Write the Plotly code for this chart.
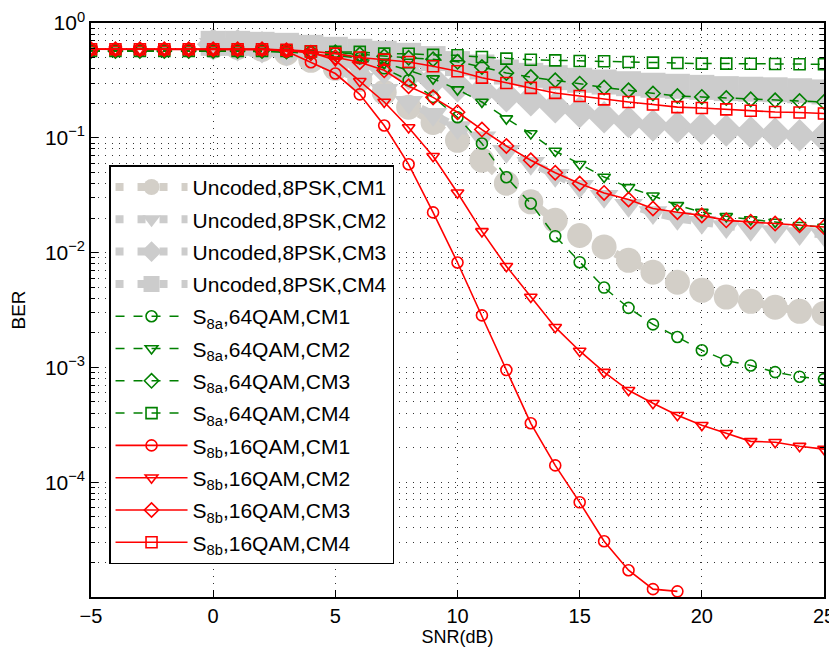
import plotly.graph_objects as go

# ---------------- data ----------------
snr_coded = list(range(-5, 26))          # -5 .. 25 dB
snr_uncoded = list(range(0, 26))         # 0 .. 25 dB
snr_s8b_cm1 = list(range(-5, 20))        # -5 .. 19 dB

uncoded_cm1 = [0.627, 0.614, 0.590, 0.545, 0.473, 0.403, 0.323, 0.249, 0.185, 0.136,
               0.0951, 0.0637, 0.0402, 0.0277, 0.0191, 0.0141, 0.0112, 0.00857, 0.00674, 0.00552,
               0.00469, 0.00410, 0.00376, 0.00334, 0.00308, 0.00295]
uncoded_cm2 = [0.652, 0.639, 0.614, 0.556, 0.483, 0.403, 0.323, 0.259, 0.204, 0.160,
               0.123, 0.100, 0.0762, 0.0600, 0.0471, 0.0378, 0.0309, 0.0258, 0.0224, 0.0199,
               0.0184, 0.0169, 0.0160, 0.0153, 0.0147, 0.0144]
uncoded_cm3 = [0.652, 0.639, 0.614, 0.578, 0.534, 0.493, 0.446, 0.403, 0.357, 0.317,
               0.281, 0.254, 0.230, 0.212, 0.185, 0.168, 0.151, 0.137, 0.128, 0.124,
               0.120, 0.116, 0.112, 0.109, 0.105, 0.102]
uncoded_cm4 = [0.665, 0.665, 0.652, 0.639, 0.614, 0.590, 0.567, 0.545, 0.523, 0.490,
               0.443, 0.414, 0.374, 0.350, 0.334, 0.317, 0.306, 0.296, 0.287, 0.281,
               0.275, 0.268, 0.265, 0.262, 0.257, 0.251]

s8a_cm1 = [0.57, 0.57, 0.57, 0.57, 0.57, 0.57, 0.57, 0.57, 0.56, 0.555,
           0.545, 0.493, 0.403, 0.317, 0.227, 0.151, 0.0892, 0.0453, 0.0268, 0.0139,
           0.00825, 0.00496, 0.00330, 0.00237, 0.00184, 0.00141, 0.00115, 0.00104, 0.00091, 0.00083,
           0.00079]
s8a_cm2 = [0.57, 0.57, 0.57, 0.57, 0.57, 0.57, 0.57, 0.57, 0.56, 0.545,
           0.523, 0.493, 0.446, 0.387, 0.328, 0.263, 0.205, 0.147, 0.109, 0.0767,
           0.0588, 0.0455, 0.0370, 0.0313, 0.0258, 0.0225, 0.0207, 0.0194, 0.0185, 0.0173,
           0.0167]
s8a_cm3 = [0.57, 0.57, 0.57, 0.57, 0.57, 0.57, 0.57, 0.57, 0.565, 0.55,
           0.556, 0.534, 0.513, 0.498, 0.483, 0.459, 0.414, 0.367, 0.338, 0.317,
           0.296, 0.274, 0.259, 0.243, 0.231, 0.227, 0.222, 0.216, 0.212, 0.209,
           0.205]
s8a_cm4 = [0.57, 0.57, 0.57, 0.57, 0.57, 0.57, 0.57, 0.57, 0.57, 0.565,
           0.56, 0.56, 0.541, 0.54, 0.528, 0.523, 0.505, 0.489, 0.479, 0.473,
           0.467, 0.464, 0.458, 0.452, 0.448, 0.443, 0.443, 0.441, 0.439, 0.437,
           0.437]

s8b_cm1 = [0.59, 0.59, 0.59, 0.59, 0.59, 0.59, 0.59, 0.59, 0.567, 0.455,
           0.363, 0.239, 0.128, 0.0588, 0.0224, 0.0082, 0.00284, 0.00095, 0.000326, 0.00014,
           6.68e-5, 3.06e-5, 1.71e-5, 1.17e-5, 1.12e-5]
s8b_cm2 = [0.59, 0.59, 0.59, 0.59, 0.59, 0.59, 0.59, 0.59, 0.578, 0.556,
           0.473, 0.311, 0.205, 0.123, 0.069, 0.0332, 0.0153, 0.0076, 0.0041, 0.00224,
           0.00139, 0.00091, 0.000632, 0.000487, 0.000383, 0.000313, 0.000267, 0.000227, 0.000223, 0.000206,
           0.000194]
s8b_cm3 = [0.59, 0.59, 0.59, 0.59, 0.59, 0.59, 0.59, 0.59, 0.58, 0.545,
           0.503, 0.455, 0.387, 0.281, 0.225, 0.167, 0.118, 0.0849, 0.0637, 0.0496,
           0.0400, 0.0331, 0.0290, 0.0242, 0.0225, 0.0211, 0.0191, 0.0186, 0.0179, 0.0173,
           0.0167]
s8b_cm4 = [0.59, 0.59, 0.59, 0.59, 0.59, 0.59, 0.59, 0.59, 0.585, 0.567,
           0.541, 0.500, 0.480, 0.458, 0.420, 0.380, 0.334, 0.300, 0.272, 0.246,
           0.231, 0.216, 0.205, 0.195, 0.185, 0.182, 0.177, 0.172, 0.168, 0.166,
           0.163]

x_tickvals = [-5, 0, 5, 10, 15, 20, 25]
x_ticktext = ["\u22125", "0", "5", "10", "15", "20", "25"]
y_tickvals = [1, 0.1, 0.01, 0.001, 0.0001]
y_ticktext = ["10<sup>0</sup>", "10<sup>\u22121</sup>", "10<sup>\u22122</sup>",
              "10<sup>\u22123</sup>", "10<sup>\u22124</sup>"]
y_minorvals = [m * 10.0 ** e for e in range(-5, 0) for m in range(2, 10)]

# ---------------- styles ----------------
BEIGE = "#D3CFC8"
GRAY = "#CCCCCC"
GREEN = "#008000"
RED = "#FF0000"
FONT = "Liberation Sans, Arial, Helvetica, sans-serif"

fig = go.Figure()

uncoded = [
    ("Uncoded,8PSK,CM1", uncoded_cm1, "circle", BEIGE),
    ("Uncoded,8PSK,CM2", uncoded_cm2, "triangle-down", GRAY),
    ("Uncoded,8PSK,CM3", uncoded_cm3, "diamond", GRAY),
    ("Uncoded,8PSK,CM4", uncoded_cm4, "square", GRAY),
]
for i, (name, ys, sym, col) in enumerate(uncoded):
    fig.add_trace(go.Scatter(
        x=snr_uncoded, y=ys, name=name, mode="lines+markers", legendgroup=f"u{i}",
        line=dict(color=col, width=8, dash="8px,14px"),
        marker=dict(symbol=sym, size=25, color=col, line=dict(width=0)),
    ))

coded_a = [
    ("S<sub>8a</sub>,64QAM,CM1", s8a_cm1, "circle-open"),
    ("S<sub>8a</sub>,64QAM,CM2", s8a_cm2, "triangle-down-open"),
    ("S<sub>8a</sub>,64QAM,CM3", s8a_cm3, "diamond-open"),
    ("S<sub>8a</sub>,64QAM,CM4", s8a_cm4, "square-open"),
]
for i, (name, ys, sym) in enumerate(coded_a):
    fig.add_trace(go.Scatter(
        x=snr_coded, y=ys, name=name, mode="lines+markers", legendgroup=f"a{i}",
        line=dict(color=GREEN, width=1.5, dash="dash"),
        marker=dict(symbol=sym, size=11, color=GREEN, line=dict(width=1.6, color=GREEN)),
    ))

coded_b = [
    ("S<sub>8b</sub>,16QAM,CM1", snr_s8b_cm1, s8b_cm1, "circle-open"),
    ("S<sub>8b</sub>,16QAM,CM2", snr_coded, s8b_cm2, "triangle-down-open"),
    ("S<sub>8b</sub>,16QAM,CM3", snr_coded, s8b_cm3, "diamond-open"),
    ("S<sub>8b</sub>,16QAM,CM4", snr_coded, s8b_cm4, "square-open"),
]
for i, (name, xs, ys, sym) in enumerate(coded_b):
    fig.add_trace(go.Scatter(
        x=xs, y=ys, name=name, mode="lines+markers", legendgroup=f"b{i}",
        line=dict(color=RED, width=1.6),
        marker=dict(symbol=sym, size=11, color=RED, line=dict(width=1.6, color=RED)),
    ))

# page body has an 8px margin: figure is 829x647 so the plot lands where the reference has it
fig.update_layout(
    width=829, height=647,
    margin=dict(l=83, r=13, t=15, b=58),
    paper_bgcolor="white", plot_bgcolor="white",
    font=dict(family=FONT, size=18, color="black"),
    showlegend=True,
    legend=dict(
        x=0.0246, y=0.752, xanchor="left", yanchor="top",
        bgcolor="white", bordercolor="black", borderwidth=1.5,
        font=dict(family=FONT, size=21, color="black"),
        tracegroupgap=2, itemwidth=72,
    ),
    xaxis=dict(
        range=[-5, 25], tickmode="array", tickvals=x_tickvals, ticktext=x_ticktext,
        ticks="inside", ticklen=7, tickwidth=1, tickcolor="black",
        showline=True, linecolor="black", linewidth=1.5, mirror="ticks",
        showgrid=True, gridcolor="#333333", gridwidth=1, griddash="1px,6px",
        zeroline=False, automargin=False,
        title=dict(text="SNR(dB)", font=dict(size=18), standoff=2),
        tickfont=dict(size=20),
    ),
    yaxis=dict(
        type="log", range=[-5, 0], tickmode="array", tickvals=y_tickvals, ticktext=y_ticktext,
        ticks="inside", ticklen=7, tickwidth=1, tickcolor="black",
        showline=True, linecolor="black", linewidth=1.5, mirror="ticks",
        showgrid=True, gridcolor="#333333", gridwidth=1, griddash="1px,6px",
        zeroline=False, automargin=False,
        minor=dict(tickmode="array", tickvals=y_minorvals, ticks="inside", ticklen=4,
                   tickcolor="black", showgrid=True, gridcolor="#333333",
                   gridwidth=1, griddash="1px,6px"),
        title=dict(text="BER", font=dict(size=19), standoff=14),
        tickfont=dict(size=21),
    ),
)

fig.write_html("out.html")
